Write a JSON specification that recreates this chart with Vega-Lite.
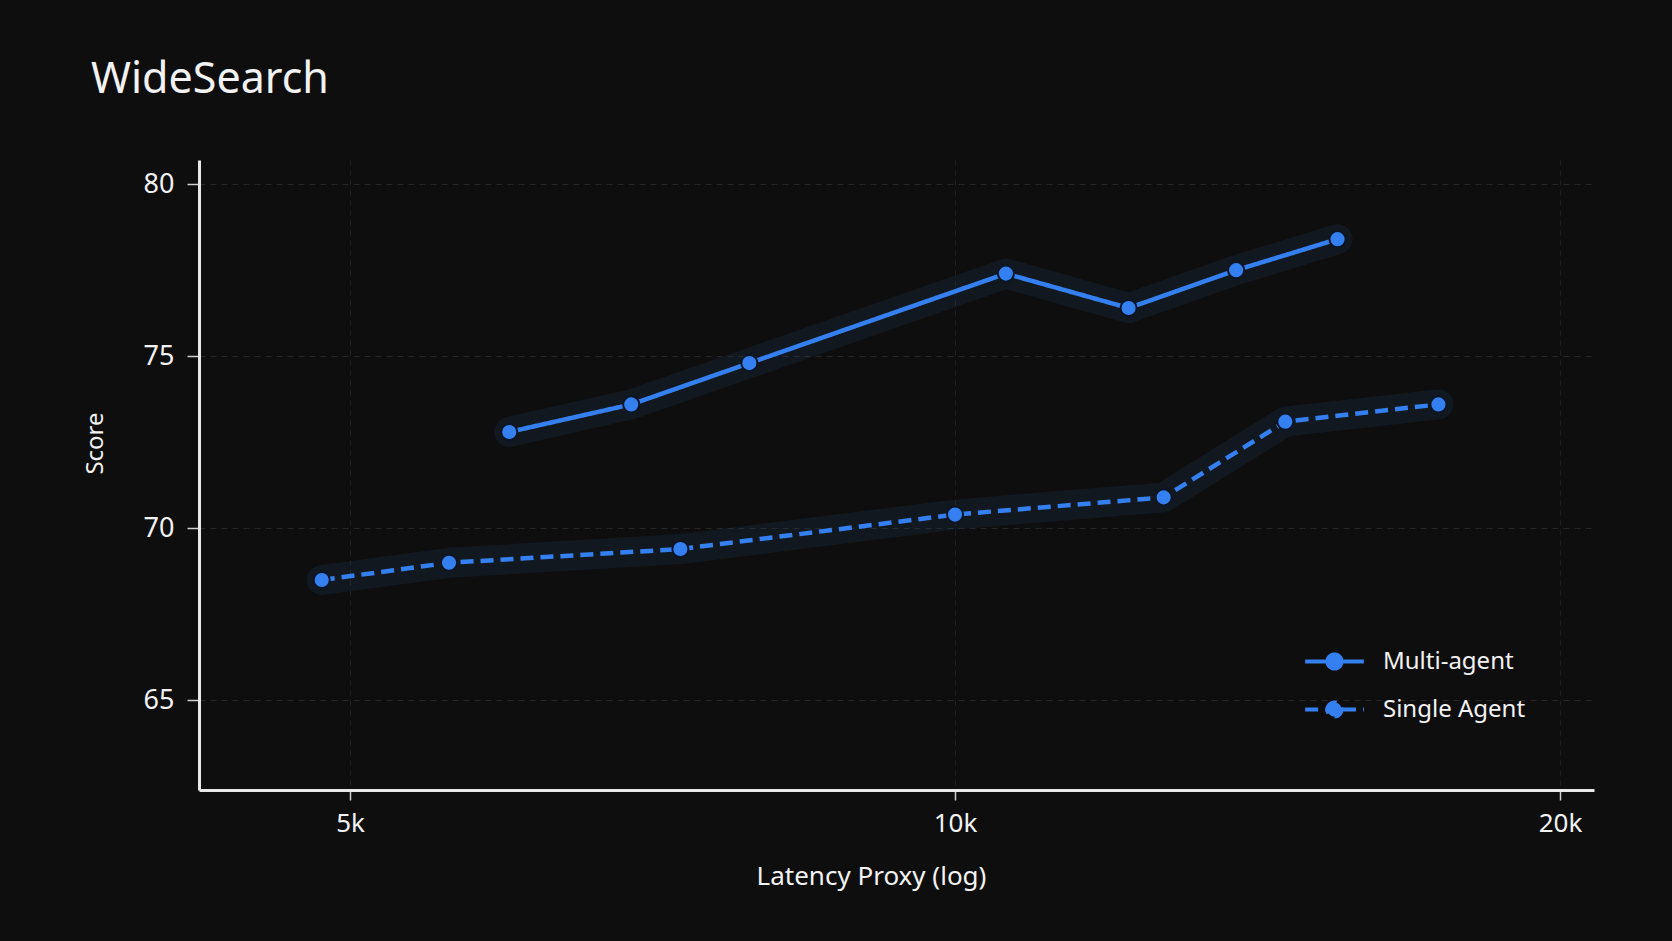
{
  "$schema": "https://vega.github.io/schema/vega-lite/v6.json",
  "width": 1395,
  "height": 630,
  "autosize": {"type": "none"},
  "padding": {"left": 199, "top": 160, "right": 78, "bottom": 151},
  "background": "#0e0e0e",
  "title": {
    "text": "WideSearch",
    "anchor": "start",
    "frame": "group",
    "dx": -108,
    "offset": 24,
    "baseline": "alphabetic",
    "fontSize": 43,
    "font": "Noto Sans",
    "fontWeight": "normal",
    "color": "#f2f2f2"
  },
  "config": {
    "view": {"stroke": null},
    "font": "Noto Sans"
  },
  "data": {
    "values": [
      {"latency": 6000, "score": 72.8, "series": "Multi-agent"},
      {"latency": 6900, "score": 73.6, "series": "Multi-agent"},
      {"latency": 7900, "score": 74.8, "series": "Multi-agent"},
      {"latency": 10600, "score": 77.4, "series": "Multi-agent"},
      {"latency": 12200, "score": 76.4, "series": "Multi-agent"},
      {"latency": 13800, "score": 77.5, "series": "Multi-agent"},
      {"latency": 15500, "score": 78.4, "series": "Multi-agent"},
      {"latency": 4840, "score": 68.5, "series": "Single Agent"},
      {"latency": 5600, "score": 69.0, "series": "Single Agent"},
      {"latency": 7300, "score": 69.4, "series": "Single Agent"},
      {"latency": 10000, "score": 70.4, "series": "Single Agent"},
      {"latency": 12700, "score": 70.9, "series": "Single Agent"},
      {"latency": 14600, "score": 73.1, "series": "Single Agent"},
      {"latency": 17400, "score": 73.6, "series": "Single Agent"}
    ]
  },
  "encoding": {
    "x": {
      "field": "latency",
      "type": "quantitative",
      "scale": {"type": "log", "domain": [4205, 20795], "nice": false},
      "axis": {
        "values": [5000, 10000, 20000],
        "labelExpr": "datum.value / 1000 + 'k'",
        "title": "Latency Proxy (log)",
        "titleX": 672,
        "titlePadding": 27,
        "titleFontSize": 26,
        "titleFontWeight": "normal",
        "titleColor": "#f2f2f2",
        "labelFontSize": 26,
        "labelColor": "#f2f2f2",
        "labelPadding": 10,
        "tickSize": 10,
        "tickColor": "#cfcfcf",
        "tickWidth": 1.5,
        "domainColor": "#e8e8e8",
        "domainWidth": 3,
        "grid": true,
        "gridColor": "#ffffff",
        "gridOpacity": 0.07,
        "gridDash": [5, 5]
      }
    },
    "y": {
      "field": "score",
      "type": "quantitative",
      "scale": {"domain": [62.4, 80.7], "nice": false, "zero": false},
      "axis": {
        "values": [65, 70, 75, 80],
        "title": "Score",
        "titleX": -92,
        "titleY": 283,
        "titleFontSize": 24,
        "titleFontWeight": "normal",
        "titleColor": "#f2f2f2",
        "labelFontSize": 27,
        "labelColor": "#f2f2f2",
        "labelPadding": 13,
        "tickSize": 12,
        "tickColor": "#cfcfcf",
        "tickWidth": 1.5,
        "domainColor": "#e8e8e8",
        "domainWidth": 3,
        "grid": true,
        "gridColor": "#ffffff",
        "gridOpacity": 0.1,
        "gridDash": [6, 5]
      }
    }
  },
  "layer": [
    {
      "mark": {"type": "line", "strokeWidth": 30, "opacity": 0.16, "strokeCap": "round", "strokeJoin": "round"},
      "encoding": {
        "detail": {"field": "series"},
        "color": {"value": "#2a5080"}
      }
    },
    {
      "mark": {"type": "line", "strokeWidth": 4.5},
      "encoding": {
        "color": {
          "field": "series",
          "type": "nominal",
          "scale": {"domain": ["Multi-agent", "Single Agent"], "range": ["#3580f0", "#3580f0"]},
          "legend": {
            "title": null,
            "orient": "none",
            "legendX": 1110,
            "legendY": 476,
            "labelFontSize": 24,
            "labelColor": "#f2f2f2",
            "labelOffset": 23,
            "rowPadding": 7,
            "symbolType": "M-1.25,0L-0.36,0M0.36,0L1.25,0M-0.3,0A0.3,0.3 0 1,1 0.3,0A0.3,0.3 0 1,1 -0.3,0Z",
            "symbolSize": 2209,
            "symbolStrokeWidth": 4,
            "encode": {"symbols": {"update": {"fill": {"value": "#3580f0"}}}}
          }
        },
        "strokeDash": {
          "field": "series",
          "type": "nominal",
          "scale": {"domain": ["Multi-agent", "Single Agent"], "range": [[1, 0], [13, 7]]},
          "legend": null
        }
      }
    },
    {
      "mark": {"type": "point", "filled": true, "size": 260, "fill": "#3580f0", "stroke": "#0a1628", "strokeWidth": 2, "opacity": 1},
      "encoding": {
        "detail": {"field": "series"}
      }
    }
  ]
}
